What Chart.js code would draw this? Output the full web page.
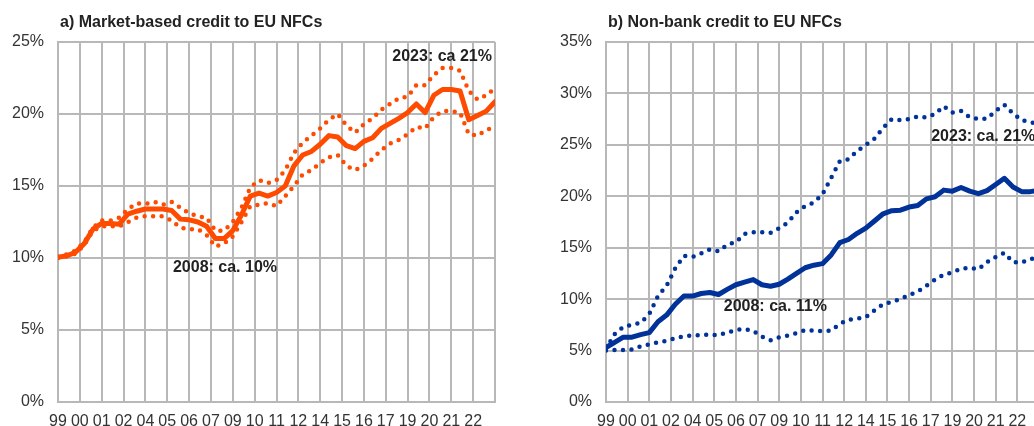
<!DOCTYPE html>
<html>
<head>
<meta charset="utf-8">
<script src="https://cdn.jsdelivr.net/npm/chart.js@4.4.1/dist/chart.umd.min.js"></script>
<style>
  body { margin: 0; background: #fff; width: 1034px; height: 426px; overflow: hidden; position: relative; }
  #chartA { position: absolute; left: 0; top: 0; }
  #chartB { position: absolute; left: 517px; top: 0; }
</style>
</head>
<body>
<canvas id="chartA" width="517" height="426"></canvas>
<canvas id="chartB" width="532" height="426"></canvas>
<script>
// time axis: one gridline every 5 periods, label under each
const yearLabels = ['99', '00', '01', '02', '04', '05', '06', '07', '09', '10', '11', '12', '14', '15', '16', '17', '19', '20', '21', '22'];
const periods = [0, 2, 4, 6, 8, 10, 12, 14, 16, 18, 20, 22, 24, 26, 28, 30, 32, 34, 36, 38, 40, 42, 44, 46, 48, 50,
  52, 54, 56, 58, 60, 62, 64, 66, 68, 70, 72, 74, 76, 78, 80, 82, 84, 86, 88, 90, 92, 94, 96, 98, 100];

// a) market-based credit, % share
const mbcMain = [10.05, 10.15, 10.4, 11.0, 12.0, 12.4, 12.4, 12.35, 13.05, 13.25, 13.4, 13.4, 13.4, 13.3, 12.7, 12.65, 12.5, 12.2, 11.35, 11.35,
  11.9, 13.0, 14.3, 14.5, 14.3, 14.55, 15.0, 16.4, 17.15, 17.4, 17.9, 18.5, 18.4, 17.8, 17.6, 18.1, 18.35, 19.0, 19.35, 19.7,
  20.1, 20.7, 20.1, 21.3, 21.7, 21.7, 21.6, 19.6, 19.9, 20.2, 20.85];
const mbcHigh = [10.1, 10.25, 10.5, 11.1, 12.1, 12.6, 12.6, 12.8, 13.4, 13.8, 13.75, 13.9, 13.7, 13.9, 13.5, 13.1, 12.9, 12.8, 11.9, 11.9,
  12.5, 13.5, 14.9, 15.4, 15.2, 15.4, 16.1, 17.3, 18.0, 18.5, 19.0, 19.6, 20.0, 19.2, 18.7, 19.3, 19.7, 20.3, 20.7, 21.1,
  21.2, 22.0, 22.0, 22.7, 23.2, 23.2, 23.0, 21.6, 21.0, 21.3, 21.8];
const mbcLow = [10.0, 10.1, 10.3, 10.9, 11.9, 12.2, 12.2, 12.2, 12.5, 12.8, 12.9, 12.9, 12.9, 12.6, 12.1, 12.0, 12.0, 11.6, 10.8, 11.0,
  11.5, 12.5, 13.6, 13.7, 13.8, 13.6, 14.3, 15.0, 15.8, 16.1, 16.6, 17.0, 17.15, 16.4, 16.1, 16.4, 16.9, 17.5, 17.95, 18.2,
  18.6, 19.1, 19.0, 19.8, 20.2, 20.2, 20.1, 18.6, 18.5, 18.9, 19.1];

// b) non-bank credit, % share
const nbcMain = [5.3, 5.8, 6.3, 6.3, 6.55, 6.75, 7.8, 8.45, 9.5, 10.3, 10.3, 10.55, 10.65, 10.45, 10.95, 11.4, 11.65, 11.9, 11.4, 11.25,
  11.45, 11.95, 12.5, 13.05, 13.3, 13.45, 14.3, 15.5, 15.8, 16.4, 16.9, 17.6, 18.3, 18.6, 18.65, 18.95, 19.1, 19.75, 19.95, 20.6,
  20.5, 20.85, 20.5, 20.25, 20.55, 21.15, 21.75, 20.9, 20.45, 20.45, 20.6];
const nbcHigh = [5.2, 6.6, 7.3, 7.5, 7.7, 8.55, 10.3, 11.3, 13.0, 14.2, 14.1, 14.45, 14.85, 14.65, 15.3, 15.55, 16.35, 16.5, 16.5, 16.45,
  16.9, 17.45, 18.45, 19.05, 19.4, 20.2, 21.8, 23.4, 23.6, 24.4, 25.0, 25.6, 26.65, 27.5, 27.4, 27.5, 27.75, 27.65, 28.0, 28.75,
  28.15, 28.3, 27.7, 27.5, 27.55, 28.3, 28.9, 28.05, 27.4, 27.2, 27.0];
const nbcLow = [5.0, 5.05, 5.05, 5.1, 5.4, 5.6, 5.8, 5.95, 6.2, 6.4, 6.45, 6.5, 6.55, 6.5, 6.75, 7.0, 7.1, 6.9, 6.35, 6.0,
  6.3, 6.45, 6.7, 7.0, 6.95, 6.9, 6.95, 7.6, 8.0, 8.1, 8.25, 8.9, 9.5, 9.75, 10.0, 10.4, 10.75, 11.3, 11.9, 12.4,
  12.6, 12.95, 13.05, 12.9, 13.6, 14.1, 14.5, 13.6, 13.55, 13.9, 14.0];

const ORANGE = '#FF4B00';
const BLUE = '#003299';
const GRID = '#B8B8B8';
const FONT = 'Arial, "Liberation Sans", sans-serif';

Chart.defaults.font.family = FONT;
Chart.defaults.font.size = 16;

// title + text notes, notes placed in data units
const noteText = {
  id: 'noteText',
  afterDatasetsDraw(chart, args, opts) {
    const { ctx, chartArea, scales } = chart;
    ctx.save();
    ctx.fillStyle = '#222';
    ctx.font = 'bold 16px ' + FONT;
    ctx.textBaseline = 'middle';
    ctx.textAlign = 'left';
    ctx.fillText(opts.title, chartArea.left + 2, 23);
    opts.notes.forEach(n => {
      ctx.textAlign = n.align;
      ctx.fillText(n.text, scales.x.getPixelForValue(n.x), scales.y.getPixelForValue(n.y));
    });
    ctx.restore();
  }
};

const toPoints = vals => periods.map((p, i) => ({ x: p, y: vals[i] }));

function makeConfig(main, high, low, color, yMax, axisWidth, padRight, title, notes) {
  const solid = { data: toPoints(main), borderColor: color, borderWidth: 5, pointRadius: 0,
    borderJoinStyle: 'round', borderCapStyle: 'round' };
  const dotted = vals => ({ data: toPoints(vals), borderColor: color, borderWidth: 4.5, pointRadius: 0,
    borderDash: [0, 8.5], borderCapStyle: 'round' });
  return {
    type: 'line',
    data: { datasets: [solid, dotted(high), dotted(low)] },
    options: {
      responsive: false,
      animation: false,
      layout: { padding: { top: 42, right: padRight, left: 0, bottom: 0 } },
      scales: {
        x: {
          type: 'linear', min: 0, max: 100,
          grid: { color: GRID, lineWidth: 2, drawTicks: false },
          border: { color: GRID, width: 2 },
          ticks: {
            stepSize: 5, autoSkip: false, maxRotation: 0, padding: 10, color: '#333',
            callback: (v, i) => yearLabels[i] || ''
          },
          afterFit: s => { s.height = 24; }
        },
        y: {
          min: 0, max: yMax,
          grid: { color: GRID, lineWidth: 2, drawTicks: false },
          border: { color: GRID, width: 2 },
          ticks: { stepSize: 5, padding: 14, color: '#333', callback: v => v + '%' },
          afterFit: s => { s.width = axisWidth; }
        }
      },
      plugins: {
        legend: { display: false },
        tooltip: { enabled: false },
        noteText: { title, notes }
      }
    },
    plugins: [noteText]
  };
}

const chartA = new Chart(document.getElementById('chartA'),
  makeConfig(mbcMain, mbcHigh, mbcLow, ORANGE, 25, 58, 22, 'a) Market-based credit to EU NFCs', [
    { text: '2023: ca 21%', x: 99.3, y: 24.0, align: 'right' },
    { text: '2008: ca. 10%', x: 26.3, y: 9.3, align: 'left' }
  ]));

const chartB = new Chart(document.getElementById('chartB'),
  makeConfig(nbcMain, nbcHigh, nbcLow, BLUE, 35, 89, 6, 'b) Non-bank credit to EU NFCs', [
    { text: '2008: ca. 11%', x: 27.2, y: 9.24, align: 'left' },
    { text: '2023: ca. 21%', x: 75.1, y: 25.76, align: 'left' }
  ]));
</script>
</body>
</html>
